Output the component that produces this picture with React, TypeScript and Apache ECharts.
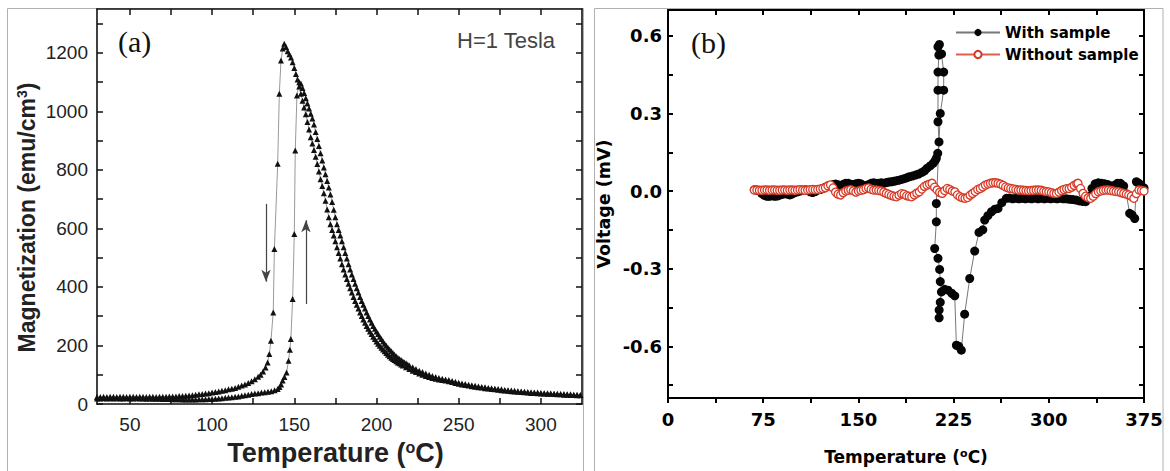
import React, { useEffect, useRef } from "react";
import * as echarts from "echarts";

// ---------- Panel (a): magnetization vs temperature ----------
const A_X_LABELS = [50, 100, 150, 200, 250, 300];
const A_X_TICKS = [50, 75, 100, 125, 150, 175, 200, 225, 250, 275, 300];
const A_Y_LABELS = [0, 200, 400, 600, 800, 1000, 1200];
const A_Y_TICKS = [0, 100, 200, 300, 400, 500, 600, 700, 800, 900, 1000, 1100, 1200, 1300];

// cooling run (arrow down), [T (°C), M (emu/cm3)]
const coolingBranch: [number, number][] = [
  [30, 24], [32, 24], [34, 25], [36, 24], [38, 25], [40, 25], [42, 24], [44, 25], [46, 25], [48, 24],
  [50, 25], [52, 25], [54, 24], [56, 25], [58, 25], [60, 24], [62, 25], [64, 25], [66, 24], [68, 25],
  [70, 25], [72, 25], [74, 26], [76, 26], [78, 26], [80, 27], [82, 27], [84, 28], [86, 29], [88, 30],
  [90, 32], [92, 33], [94, 34], [96, 36], [98, 37], [100, 39], [102, 41], [104, 43], [106, 45], [108, 47],
  [110, 50], [112, 52], [114, 55], [116, 59], [118, 63], [120, 67], [122, 72], [124, 78], [126, 85], [128, 93],
  [129.5, 100], [131, 111], [132.5, 125], [133.8, 142], [134.8, 171], [135.8, 216], [137.2, 313], [137.9, 530],
  [139.9, 821], [140.9, 1060], [141.9, 1174], [143, 1215], [143.9, 1231], [145, 1220], [146, 1206], [147, 1195],
  [148, 1184], [149, 1168], [150, 1148], [151, 1128], [152, 1109], [153, 1085], [154, 1060], [155, 1036],
  [156, 1013], [157, 990], [158, 964], [159, 938], [160, 912], [161, 890], [162, 868], [163, 845], [164, 820],
  [165, 795], [166, 768], [167, 745], [168, 720], [169, 695], [170, 665], [171, 638], [172, 614], [173, 595],
  [174, 576], [175, 556], [176, 536], [177, 516], [178, 497], [179, 478], [180, 460], [181, 443], [182, 427],
  [183, 411], [184, 396], [185, 381], [186, 366], [187, 352], [188, 339], [189, 326], [190, 313], [191, 301],
  [192, 289], [193, 278], [194, 267], [195, 257], [196, 248], [197, 239], [198, 230], [199, 222], [200, 214],
  [201, 206], [202, 199], [203, 192], [204, 186], [205, 180], [206, 174], [207, 168], [208, 163], [209, 158],
  [210, 154], [211, 150], [212, 146], [213, 142], [214, 139], [215, 135], [216, 132], [218, 126], [220, 120],
  [222, 114], [224, 109], [226, 104], [228, 100], [230, 96], [232, 92], [234, 89], [236, 86], [238, 84],
  [240, 82], [242, 80], [244, 78], [246, 75], [248, 72], [250, 69], [252, 67], [254, 65], [256, 63], [258, 61],
  [260, 59], [262, 57], [264, 56], [266, 54], [268, 53], [270, 51], [272, 50], [274, 49], [276, 47], [278, 46],
  [280, 45], [282, 44], [284, 43], [286, 42], [288, 41], [290, 40], [292, 39], [294, 38], [296, 38], [298, 37],
  [300, 36], [302, 36], [304, 35], [306, 35], [308, 34], [310, 33], [312, 33], [314, 32], [316, 32], [318, 31],
  [320, 31], [322, 30], [324, 30],
];

// heating run (arrow up)
const heatingBranch: [number, number][] = [
  [30, 19], [32, 19], [34, 20], [36, 19], [38, 20], [40, 19], [42, 20], [44, 19], [46, 19], [48, 20],
  [50, 19], [52, 19], [54, 20], [56, 19], [58, 19], [60, 18], [62, 19], [64, 18], [66, 18], [68, 18],
  [70, 17], [72, 17], [74, 17], [76, 16], [78, 16], [80, 16], [82, 15], [84, 15], [86, 15], [88, 15],
  [90, 15], [92, 16], [94, 16], [96, 16], [98, 17], [100, 17], [102, 18], [104, 19], [106, 20], [108, 21],
  [110, 22], [112, 23], [114, 25], [116, 26], [118, 28], [120, 30], [122, 32], [124, 34], [126, 36], [128, 37],
  [130, 39], [132, 40], [134, 42], [136, 44], [138, 47], [139.9, 51], [141, 58], [142, 67], [142.9, 80],
  [144, 92], [145.3, 108], [146.5, 148], [147.3, 185], [147.9, 222], [149, 359], [150, 581], [150.6, 866],
  [151.6, 1054], [153, 1100], [154, 1095], [155, 1080], [156, 1063], [157, 1045], [158, 1027], [159, 1010],
  [160, 992], [161, 976], [162, 955], [163, 930], [164, 906], [165, 882], [166, 857], [167, 832], [168, 808],
  [169, 785], [170, 762], [171, 740], [172, 716], [173, 690], [174, 664], [175, 638], [176, 614], [177, 595],
  [178, 576], [179, 556], [180, 536], [181, 516], [182, 497], [183, 478], [184, 460], [185, 443], [186, 427],
  [187, 411], [188, 396], [189, 381], [190, 366], [191, 352], [192, 339], [193, 326], [194, 313], [195, 301],
  [196, 289], [197, 278], [198, 267], [199, 257], [200, 248], [201, 239], [202, 230], [203, 222], [204, 214],
  [205, 206], [206, 199], [207, 192], [208, 186], [209, 180], [210, 174], [211, 168], [212, 163], [213, 158],
  [214, 154], [215, 150], [216, 146], [217, 142], [218, 139], [219, 135], [220, 132], [222, 126], [224, 120],
  [226, 114], [228, 109], [230, 104], [232, 100], [234, 96], [236, 92], [238, 89], [240, 86], [242, 84],
  [244, 82], [246, 79], [248, 76], [250, 73], [252, 70], [254, 68], [256, 66], [258, 64], [260, 62], [262, 60],
  [264, 58], [266, 57], [268, 55], [270, 54], [272, 52], [274, 51], [276, 50], [278, 48], [280, 47], [282, 46],
  [284, 45], [286, 44], [288, 43], [290, 42], [292, 41], [294, 40], [296, 39], [298, 39], [300, 38], [302, 37],
  [304, 37], [306, 36], [308, 35], [310, 35], [312, 34], [314, 34], [316, 33], [318, 33], [320, 32], [322, 32],
  [324, 31],
];

// arrows: [T, M start] -> [T, M end]
const coolArrow: [number, number][] = [[132.8, 684], [132.8, 418]];
const heatArrow: [number, number][] = [[157.1, 342], [157.1, 628]];

// ---------- Panel (b): voltage vs temperature ----------
const B_X_LABELS = [0, 75, 150, 225, 300, 375];
const B_X_TICKS = [0, 37.5, 75, 112.5, 150, 187.5, 225, 262.5, 300, 337.5, 375];
const B_Y_LABELS = [-0.6, -0.3, 0, 0.3, 0.6];
const B_Y_TICKS = [-0.75, -0.6, -0.45, -0.3, -0.15, 0, 0.15, 0.3, 0.45, 0.6];
const B_LEGEND = ["With sample", "Without sample"];

const withSample: [number, number][] = [
  [68, 0.005], [70, 0.004], [72, 0.0], [74, -0.01], [76, -0.017], [78, -0.02], [80, -0.02], [82, -0.018],
  [84, -0.02], [86, -0.019], [88, -0.016], [90, -0.013], [92, -0.01], [94, -0.012], [96, -0.015], [98, -0.011],
  [100, -0.006], [102, -0.003], [104, 0.0], [106, 0.003], [108, 0.005], [110, 0.003], [112, -0.003], [114, -0.006],
  [116, -0.002], [118, 0.004], [120, 0.006], [122, 0.01], [124, 0.015], [126, 0.02], [128, 0.022], [130, 0.025],
  [132, 0.027], [134, 0.024], [136, 0.022], [138, 0.026], [140, 0.03], [142, 0.03], [144, 0.026], [146, 0.025],
  [148, 0.028], [150, 0.03], [152, 0.028], [154, 0.022], [156, 0.02], [158, 0.025], [160, 0.03], [162, 0.032],
  [164, 0.03], [166, 0.03], [168, 0.032], [170, 0.03], [172, 0.033], [174, 0.035], [176, 0.036], [178, 0.038],
  [180, 0.04], [182, 0.042], [184, 0.045], [186, 0.048], [188, 0.051], [190, 0.055], [192.5, 0.058], [195, 0.062],
  [197.5, 0.066], [200, 0.072], [202, 0.078], [204, 0.088], [206.5, 0.097], [208.8, 0.107], [210.5, 0.118],
  [211.4, 0.127], [212.5, 0.146], [213.5, 0.19], [212.7, 0.268], [212.7, 0.39], [212.7, 0.46], [213.4, 0.526],
  [212.7, 0.558], [213.8, 0.567], [215.5, 0.53], [217.2, 0.46], [217.2, 0.39], [214.5, 0.3], [211.4, -0.048],
  [211.4, -0.119], [210.1, -0.222], [212.7, -0.26], [214, -0.303], [214.5, -0.35], [214.5, -0.43], [213.6, -0.46],
  [213.6, -0.49], [215.4, -0.39], [218, -0.38], [220.6, -0.383], [223.5, -0.395], [225.9, -0.405], [227.2, -0.596],
  [229, -0.6], [231.1, -0.615], [233.7, -0.476], [237.7, -0.338], [241.6, -0.232], [245, -0.16], [248, -0.15],
  [249.5, -0.112], [252, -0.095], [254.8, -0.08], [257.5, -0.07], [260, -0.067], [263, -0.045], [266.6, -0.028],
  [269, -0.027], [271.5, -0.03], [274, -0.028], [276.5, -0.03], [279, -0.028], [281.5, -0.03], [284, -0.028],
  [286.5, -0.03], [289, -0.027], [291.5, -0.03], [294, -0.028], [296.5, -0.03], [299, -0.028], [301.5, -0.03],
  [304, -0.028], [306.5, -0.03], [309, -0.028], [311.5, -0.03], [314, -0.03], [316.5, -0.032], [319, -0.033],
  [321.5, -0.035], [324, -0.038], [326.5, -0.04], [329, -0.041], [331.5, -0.02], [334, 0.01], [336.5, 0.028],
  [339, 0.032], [341.5, 0.03], [344, 0.028], [346.5, 0.025], [349, 0.02], [351.5, 0.022], [354, 0.03],
  [356.5, 0.03], [359, 0.02], [361, -0.01], [363.7, -0.086], [365.5, -0.092], [367.7, -0.106], [369, 0.036],
  [371, 0.03], [373, 0.02], [375, 0.012],
];

const withoutSample: [number, number][] = [
  [68, 0.004], [70, 0.004], [72, 0.003], [74, 0.003], [76, 0.004], [78, 0.004], [80, 0.003], [82, 0.004],
  [84, 0.004], [86, 0.003], [88, 0.003], [90, 0.004], [92, 0.004], [94, 0.003], [96, 0.004], [98, 0.004],
  [100, 0.003], [102, 0.004], [104, 0.005], [106, 0.004], [108, 0.003], [110, 0.004], [112, 0.005], [114, 0.006],
  [116, 0.005], [118, 0.006], [120, 0.008], [122, 0.01], [124, 0.013], [126, 0.02], [128, 0.024], [130, 0.012],
  [132, -0.004], [134, -0.012], [136, -0.015], [138, -0.006], [140, 0.0], [142, 0.003], [144, 0.005], [146, 0.001],
  [148, -0.004], [150, 0.0], [152, 0.003], [154, 0.005], [156, 0.01], [158, 0.012], [160, 0.007], [162, 0.004],
  [164, 0.004], [166, 0.002], [168, 0.0], [170, -0.004], [172, -0.009], [174, -0.013], [176, -0.017], [178, -0.02],
  [180, -0.022], [182, -0.016], [184, -0.01], [186, -0.012], [188, -0.018], [190, -0.02], [192, -0.022],
  [194, -0.015], [196, -0.008], [198, -0.003], [200, 0.008], [202, 0.018], [204, 0.023], [206, 0.027], [208, 0.03],
  [210, 0.015], [212, 0.004], [214, -0.005], [216, -0.009], [218, 0.002], [220, 0.01], [222, 0.006], [224, 0.0],
  [226, -0.003], [228, -0.015], [230, -0.022], [232, -0.026], [234, -0.028], [236, -0.025], [238, -0.016],
  [240, -0.009], [242, -0.002], [244, 0.006], [246, 0.01], [248, 0.016], [250, 0.023], [252, 0.027], [254, 0.03],
  [256, 0.032], [258, 0.032], [260, 0.03], [262, 0.027], [264, 0.022], [266, 0.016], [268, 0.012], [270, 0.01],
  [272, 0.008], [274, 0.006], [276, 0.004], [278, 0.004], [280, 0.003], [282, 0.002], [284, 0.001], [286, 0.002],
  [288, 0.003], [290, 0.004], [292, 0.004], [294, 0.003], [296, 0.0], [298, -0.002], [300, -0.003], [302, -0.006],
  [304, -0.009], [306, -0.009], [308, -0.004], [310, 0.002], [312, 0.006], [314, 0.009], [316, 0.01], [318, 0.015],
  [320, 0.022], [322, 0.028], [323, 0.03], [325, 0.01], [327, -0.009], [329, -0.02], [331, -0.026], [333, -0.028],
  [335, -0.02], [337, -0.01], [339, -0.003], [341, 0.0], [343, 0.003], [345, 0.004], [347, 0.004], [349, 0.002],
  [351, 0.0], [353, -0.002], [355, -0.003], [357, -0.006], [359, -0.009], [361, -0.012], [363, -0.015],
  [365, -0.02], [367, -0.028], [369, -0.01], [371, 0.004], [373, 0.002], [375, 0.0],
];

const SANS = '"Liberation Sans", Arial, sans-serif';
const BOLD_WIDE = '"DejaVu Sans", Verdana, sans-serif';
const SERIF = '"Liberation Serif", "Times New Roman", serif';

export default function App() {
  const ref = useRef<HTMLDivElement>(null);

  useEffect(() => {
    if (!ref.current) return;
    const chart = echarts.init(ref.current, undefined, { renderer: "svg" });

    const aAxisLine = { show: true, onZero: false, lineStyle: { color: "#111", width: 1.6 } };
    const bAxisLine = { show: true, onZero: false, lineStyle: { color: "#000", width: 2 } };

    const aLabelStyle = { color: "#222", fontSize: 19, fontFamily: SANS };
    const bLabelStyle = { color: "#000", fontSize: 18, fontWeight: "bold", fontFamily: BOLD_WIDE };

    const option: any = {
      animation: false,
      backgroundColor: "#fff",
      grid: [
        { left: 97, top: 9, width: 485, height: 396 },
        { left: 668, top: 10, width: 476, height: 388 },
      ],
      xAxis: [
        {
          type: "value", gridIndex: 0, min: 30, max: 325, position: "bottom",
          axisLine: aAxisLine,
          axisTick: { inside: true, length: 6, lineStyle: { color: "#111", width: 1.5 }, customValues: A_X_TICKS },
          axisLabel: { ...aLabelStyle, margin: 11, customValues: A_X_LABELS, formatter: (v: number) => String(v) },
          splitLine: { show: false },
          name: "{n|Temperature (}{s|o}{n|C)}",
          nameLocation: "middle", nameGap: 35,
          nameTextStyle: {
            padding: [0, 8, 0, 0],
            rich: {
              n: { fontSize: 27, fontWeight: "bold", fontFamily: SANS, color: "#222" },
              s: { fontSize: 16, fontWeight: "bold", fontFamily: SANS, color: "#222", verticalAlign: "top" },
            },
          },
        },
        {
          type: "value", gridIndex: 0, min: 30, max: 325, position: "top",
          axisLine: aAxisLine,
          axisTick: { inside: true, length: 6, lineStyle: { color: "#111", width: 1.5 }, customValues: A_X_TICKS },
          axisLabel: { show: false }, splitLine: { show: false },
        },
        {
          type: "value", gridIndex: 1, min: 0, max: 375, position: "bottom",
          axisLine: bAxisLine,
          axisTick: { inside: false, length: 5, lineStyle: { color: "#000", width: 2 }, customValues: B_X_TICKS },
          axisLabel: { ...bLabelStyle, margin: 12, customValues: B_X_LABELS, formatter: (v: number) => String(v) },
          splitLine: { show: false },
          name: "{n|Temperature (}{s|o}{n|C)}",
          nameLocation: "middle", nameGap: 50,
          nameTextStyle: {
            rich: {
              n: { fontSize: 17, fontWeight: "bold", fontFamily: BOLD_WIDE, color: "#000" },
              s: { fontSize: 11, fontWeight: "bold", fontFamily: BOLD_WIDE, color: "#000", verticalAlign: "top" },
            },
          },
        },
        {
          type: "value", gridIndex: 1, min: 0, max: 375, position: "top",
          axisLine: bAxisLine,
          axisTick: { inside: true, length: 5, lineStyle: { color: "#000", width: 2 }, customValues: B_X_TICKS },
          axisLabel: { show: false }, splitLine: { show: false },
        },
      ],
      yAxis: [
        {
          type: "value", gridIndex: 0, min: 0, max: 1350, position: "left",
          axisLine: aAxisLine,
          axisTick: { inside: true, length: 6, lineStyle: { color: "#111", width: 1.5 }, customValues: A_Y_TICKS },
          axisLabel: { ...aLabelStyle, margin: 9, customValues: A_Y_LABELS, formatter: (v: number) => String(v) },
          splitLine: { show: false },
          name: "{n|Magnetization (emu/cm}{s|3}{n|)}",
          nameLocation: "middle", nameGap: 59,
          nameTextStyle: {
            padding: [0, 22, 0, 0],
            rich: {
              n: { fontSize: 23, fontWeight: "bold", fontFamily: SANS, color: "#222" },
              s: { fontSize: 14, fontWeight: "bold", fontFamily: SANS, color: "#222", verticalAlign: "top" },
            },
          },
        },
        {
          type: "value", gridIndex: 0, min: 0, max: 1350, position: "right",
          axisLine: aAxisLine,
          axisTick: { inside: true, length: 6, lineStyle: { color: "#111", width: 1.5 }, customValues: A_Y_TICKS },
          axisLabel: { show: false }, splitLine: { show: false },
        },
        {
          type: "value", gridIndex: 1, min: -0.8, max: 0.7, position: "left",
          axisLine: bAxisLine,
          axisTick: { inside: true, length: 5, lineStyle: { color: "#000", width: 2 }, customValues: B_Y_TICKS },
          axisLabel: { ...bLabelStyle, margin: 6, customValues: B_Y_LABELS, formatter: (v: number) => v.toFixed(1) },
          splitLine: { show: false },
          name: "Voltage (mV)",
          nameLocation: "middle", nameGap: 55,
          nameTextStyle: { fontSize: 17.5, fontWeight: "bold", fontFamily: BOLD_WIDE, color: "#000" },
        },
        {
          type: "value", gridIndex: 1, min: -0.8, max: 0.7, position: "right",
          axisLine: bAxisLine,
          axisTick: { inside: true, length: 5, lineStyle: { color: "#000", width: 2 }, customValues: B_Y_TICKS },
          axisLabel: { show: false }, splitLine: { show: false },
        },
      ],
      legend: {
        data: B_LEGEND,
        orient: "vertical",
        left: 950, top: 20,
        itemWidth: 44, itemHeight: 9, itemGap: 7,
        textStyle: { fontSize: 15, fontWeight: "bold", fontFamily: BOLD_WIDE, color: "#000" },
      },
      series: [
        {
          type: "line", name: "Cooling", xAxisIndex: 0, yAxisIndex: 0,
          data: coolingBranch, symbol: "triangle", symbolSize: 6, showAllSymbol: true,
          itemStyle: { color: "#111" }, lineStyle: { color: "#999", width: 1 },
          emphasis: { disabled: true },
          markLine: {
            silent: true, symbol: ["none", "arrow"], symbolSize: [7, 12],
            label: { show: false },
            lineStyle: { color: "#444", width: 1.2, type: "solid" },
            data: [
              [{ coord: coolArrow[0] }, { coord: coolArrow[1] }],
              [{ coord: heatArrow[0] }, { coord: heatArrow[1] }],
            ],
          },
        },
        {
          type: "line", name: "Heating", xAxisIndex: 0, yAxisIndex: 0,
          data: heatingBranch, symbol: "triangle", symbolSize: 6, showAllSymbol: true,
          itemStyle: { color: "#111" }, lineStyle: { color: "#999", width: 1 },
          emphasis: { disabled: true },
        },
        {
          type: "line", name: B_LEGEND[0], xAxisIndex: 2, yAxisIndex: 2,
          data: withSample, symbol: "circle", symbolSize: 9, showAllSymbol: true,
          itemStyle: { color: "#050505" }, lineStyle: { color: "#777", width: 1 },
          emphasis: { disabled: true },
        },
        {
          type: "line", name: B_LEGEND[1], xAxisIndex: 2, yAxisIndex: 2,
          data: withoutSample, symbol: "circle", symbolSize: 8, showAllSymbol: true,
          itemStyle: { color: "#fff", borderColor: "#d63a26", borderWidth: 1.3 },
          lineStyle: { color: "#e0604c", width: 1 },
          emphasis: { disabled: true },
        },
      ],
      graphic: [
        { type: "rect", silent: true, shape: { x: 7.5, y: 8.5, width: 576, height: 470 }, style: { fill: "none", stroke: "#b0b0b0", lineWidth: 1 } },
        { type: "rect", silent: true, shape: { x: 594.5, y: 8.5, width: 568.5, height: 470 }, style: { fill: "none", stroke: "#b0b0b0", lineWidth: 1 } },
        { type: "text", left: 118, top: 26, style: { text: "(a)", font: `30px ${SERIF}`, fill: "#111" } },
        { type: "text", left: 691, top: 27, style: { text: "(b)", font: `30px ${SERIF}`, fill: "#111" } },
        { type: "text", left: 457, top: 29, style: { text: "H=1 Tesla", font: `22px ${SANS}`, fill: "#444" } },
      ],
    };

    chart.setOption(option);
    return () => chart.dispose();
  }, []);

  return (
    <div
      ref={ref}
      style={{ position: "fixed", left: 0, top: 0, width: 1170, height: 471, background: "#fff" }}
    />
  );
}
